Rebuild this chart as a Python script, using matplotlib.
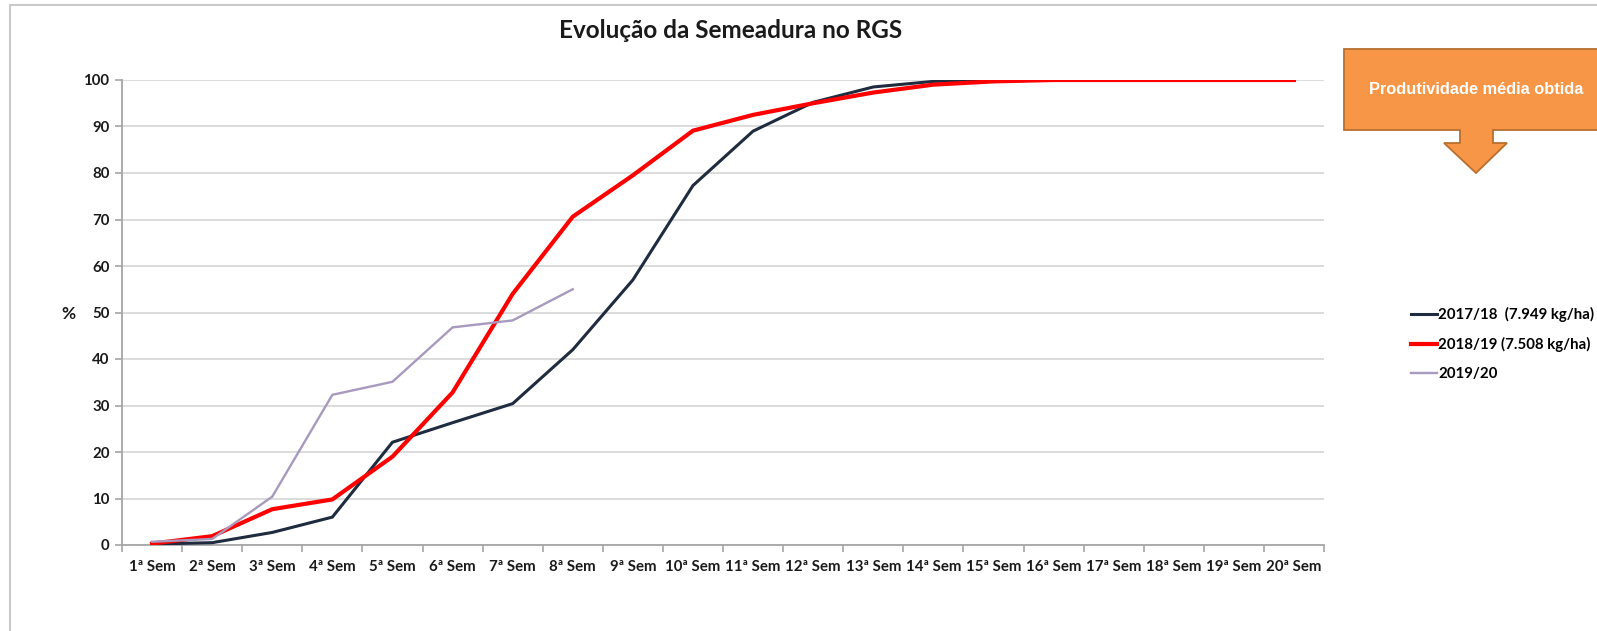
import numpy as np
import matplotlib.pyplot as plt
from matplotlib.patches import Polygon, Rectangle

semanas = [f"{i}ª Sem" for i in range(1, 21)]

safra_2017_18 = [0.2, 0.5, 2.7, 6.0, 22.1, 26.3, 30.4, 42.0, 57.0, 77.3,
                 89.0, 95.2, 98.5, 99.7, 100, 100, 100, 100, 100, 100]
safra_2018_19 = [0.3, 1.9, 7.7, 9.8, 19.0, 32.8, 54.0, 70.6, 79.5, 89.1,
                 92.5, 95.0, 97.3, 99.0, 99.7, 100, 100, 100, 100, 100]
safra_2019_20 = [0.7, 1.3, 10.4, 32.3, 35.1, 46.8, 48.3, 55.0]

labels = ["2017/18  (7.949 kg/ha)", "2018/19 (7.508 kg/ha)", "2019/20"]
colors = ["#1f2b3e", "#ff0000", "#a899be"]
widths = [2.2, 3.0, 1.7]

W, H = 1597, 631
fig = plt.figure(figsize=(W / 100, H / 100), dpi=100)
plt.rcParams['font.family'] = ['Lato', 'DejaVu Sans']

def fx(px):
    return px / W

def fy(py):
    return 1 - py / H

# outer chart frame
fig.patches.append(Rectangle((fx(10), fy(640)), fx(1600), fy(5) - fy(640),
                             transform=fig.transFigure, fill=False,
                             edgecolor="#c9c9c9", linewidth=1.5))

ax = fig.add_axes([fx(122), fy(545), fx(1324) - fx(122), fy(80) - fy(545)])

x = np.arange(1, 21)
series = [safra_2017_18, safra_2018_19, safra_2019_20]
for vals, lab, c, lw in zip(series, labels, colors, widths):
    ax.plot(x[:len(vals)], vals, color=c, linewidth=lw, label=lab,
            solid_joinstyle="miter", zorder=3)

ax.set_xlim(0.5, 20.5)
ax.set_ylim(0, 100)
ax.set_yticks(range(0, 101, 10))
ax.set_xticks(x)
ax.set_xticklabels(semanas)
ax.set_xticks(np.arange(0.5, 21, 1), minor=True)
ax.tick_params(axis="x", which="major", length=0, pad=11)
ax.tick_params(axis="x", which="minor", length=5, color="#a6a6a6", width=1.2)
ax.tick_params(axis="y", length=5, color="#a6a6a6", width=1.2, pad=4)
for t in ax.get_xticklabels() + ax.get_yticklabels():
    t.set_fontweight("bold")
    t.set_fontsize(10.8)
    t.set_color("#1a1a1a")

ax.grid(axis="y", color="#d9d9d9", linewidth=1.3)
ax.set_axisbelow(True)
for s in ["top", "right"]:
    ax.spines[s].set_visible(False)
for s in ["left", "bottom"]:
    ax.spines[s].set_color("#a6a6a6")
    ax.spines[s].set_linewidth(1.3)

fig.text(fx(68), fy(314), "%", fontsize=12.5, fontweight="bold",
         ha="center", va="center", color="#1a1a1a")
fig.text(fx(731), fy(31), "Evolução da Semeadura no RGS", fontsize=17.5,
         fontweight="bold", ha="center", va="center", color="#1a1a1a")

leg = fig.legend(loc="upper left", bbox_to_anchor=(fx(1405), fy(301)),
                 frameon=False, handlelength=1.75, handletextpad=0.05,
                 labelspacing=1.0, borderaxespad=0,
                 prop={"weight": "bold", "size": 10.8})

# orange callout
callout = [(1344, 49), (1610, 49), (1610, 130), (1493, 130), (1493, 143),
           (1507, 143), (1476, 173), (1444, 143), (1460, 143), (1460, 130),
           (1344, 130)]
fig.patches.append(Polygon([(fx(a), fy(b)) for a, b in callout],
                           closed=True, transform=fig.transFigure,
                           facecolor="#f79646", edgecolor="#b8702f",
                           linewidth=1.3))
fig.text(fx(1476), fy(90), "Produtividade média obtida", fontsize=11.8,
         fontweight="bold", family="Liberation Sans", color="white",
         ha="center", va="center")

fig.savefig("out.png", dpi=100)
